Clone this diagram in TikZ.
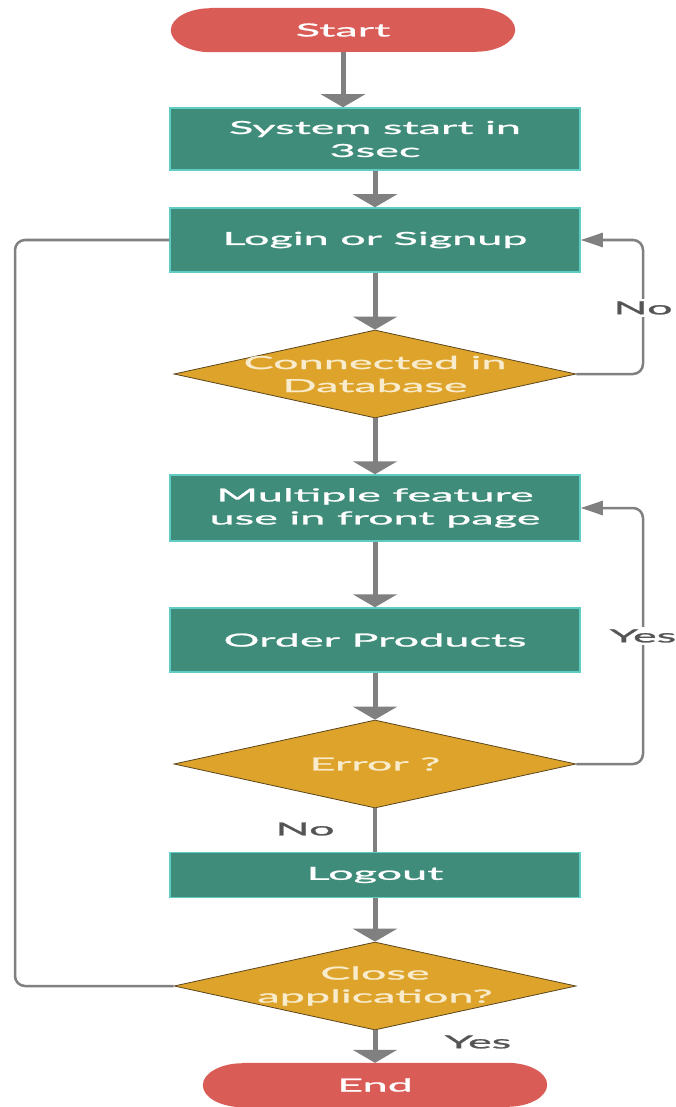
\documentclass[tikz,border=0pt]{standalone}
\usepackage{fontspec}
\newfontfamily\lato[FakeStretch=2.5,FakeBold=1.2]{Lato}
\usetikzlibrary{shapes.geometric,arrows.meta,backgrounds}
\definecolor{teal1}{RGB}{64,140,122}
\definecolor{tealedge}{RGB}{95,205,195}
\definecolor{red1}{RGB}{218,92,87}
\definecolor{gold1}{RGB}{222,163,42}
\definecolor{golddk}{RGB}{90,70,30}
\definecolor{gline}{RGB}{128,128,128}
\definecolor{dtext}{RGB}{248,236,205}
\definecolor{lbl}{RGB}{85,85,85}
\begin{document}
\begin{tikzpicture}[x=1pt,y=1pt,
  every node/.style={font=\lato\fontsize{18}{23}\selectfont},
  term/.style={rectangle,minimum width=344pt,minimum height=44pt,inner sep=0pt,text=white},
  box/.style={rectangle,fill=teal1,draw=tealedge,line width=1.5pt,minimum width=410pt,inner sep=0pt,align=center,text=white},
  dia/.style={diamond,fill=gold1,draw=golddk,line width=0.8pt,minimum width=402pt,minimum height=88pt,inner sep=0pt},
  dlabel/.style={align=center,text=dtext},
  arr/.style={draw=gline,line width=5pt,-{Triangle[width=44pt,length=13pt]}},
  plainln/.style={draw=gline,line width=4pt},
  loopln/.style={draw=gline,line width=2.5pt,rounded corners=10pt},
  larr/.style={-{Triangle[width=14pt,length=22pt]}},
  lab/.style={text=lbl,fill=white,inner sep=2pt}
]
\useasboundingbox (0,0) rectangle (675,-1107);

% terminals
\node[term] (start) at (343,-30) {Start};
\node[term] (end) at (375,-1085) {End};
\begin{scope}[on background layer]
  \fill[white] (0,0) rectangle (675,-1107);
  \foreach \n in {start,end}{
    \fill[red1] ([xshift=40pt]\n.north west) -- ([xshift=-40pt]\n.north east)
      arc[start angle=90,end angle=-90,x radius=40pt,y radius=22pt]
      -- ([xshift=40pt]\n.south west)
      arc[start angle=270,end angle=90,x radius=40pt,y radius=22pt] -- cycle;
  }
\end{scope}

% process boxes
\node[box,minimum height=62pt] (sys) at (375,-139) {System start in\\3sec};
\node[box,minimum height=64pt] (login) at (375,-240) {Login or Signup};
\node[box,minimum height=66pt] (multi) at (375,-508) {Multiple feature\\use in front page};
\node[box,minimum height=64pt] (order) at (375,-640) {Order Products};
\node[box,minimum height=45pt] (logout) at (375,-875) {Logout};

% decisions
\node[dia,label={[dlabel]center:Connected in\\Database}] (conn) at (375,-374) {};
\node[dia,label={[dlabel]center:Error ?}] (err) at (375,-764) {};
\node[dia,label={[dlabel]center:Close\\application?}] (close) at (375,-986) {};

% main flow
\draw[arr] (start) -- (start |- sys.north);
\draw[arr] (sys) -- (login);
\draw[arr] (login) -- (conn);
\draw[arr] (conn) -- (multi);
\draw[arr] (multi) -- (order);
\draw[arr] (order) -- (err);
\draw[plainln] (err) -- (logout);
\draw[arr] (logout) -- (close);
\draw[arr] (close) -- (end);

% loops
\coordinate (noX) at (643,-374);
\coordinate (yesX) at (643,-764);
\coordinate (leftX) at (15,-986);
\draw[loopln,larr] (conn.east) -- (noX) |- (login.east);
\draw[loopln,larr] (err.east) -- (yesX) |- (multi.east);
\draw[loopln] (close.west) -- (leftX) |- (login.west);

% labels
\node[lab] (lno1) at (643,-308) {No};
\node[lab] (lyes1) at (643,-636) {Yes};
\node[lab,fill=none] (lno2) at (305,-829) {No};
\node[lab,fill=none] (lyes2) at (478,-1042) {Yes};
\end{tikzpicture}
\end{document}
